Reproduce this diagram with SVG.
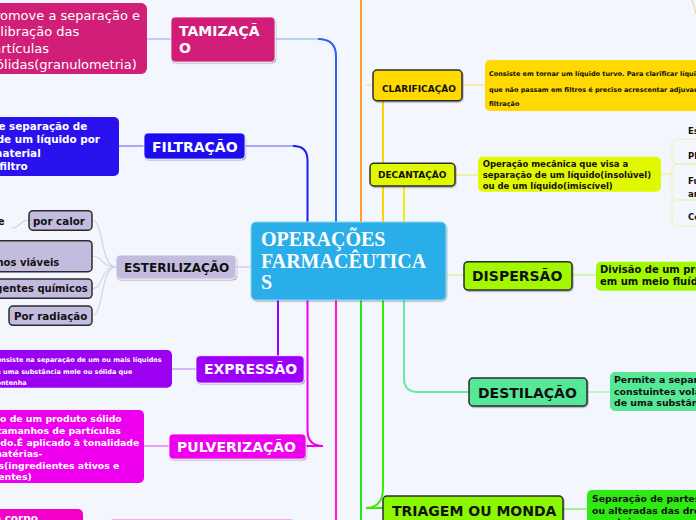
<svg xmlns="http://www.w3.org/2000/svg" width="696" height="520" viewBox="0 0 696 520">
<defs>
<filter id="sh" x="-10%" y="-10%" width="130%" height="150%"><feDropShadow dx="0.8" dy="1.2" stdDeviation="0.7" flood-color="#000" flood-opacity="0.3"/></filter>
<style>
.t{font-family:"DejaVu Sans",Verdana,sans-serif;font-weight:bold}
.r{font-family:"DejaVu Sans",Verdana,sans-serif}
.w{fill:#fff}.k{fill:#111}
.dk{stroke:#2b2b2b;stroke-width:1.5}
.lt{stroke:#ffffff;stroke-opacity:0.7;stroke-width:1}
.nd{filter:url(#sh)}
.e{text-anchor:end}
</style>
</defs>
<rect width="696" height="520" fill="#f3f6fd"/>
<g id="connectors" fill="none" stroke-width="2">
<path d="M275,39 H322" stroke="#a9c0f7" stroke-width="1.5"/>
<path d="M318,39 Q336,39 336,56 V222" stroke="#2f5ff5"/>
<path d="M245,146 H296" stroke="#8c8cf3" stroke-width="1.5"/>
<path d="M293,146 Q307.5,146 307.5,160 V222" stroke="#1c1cf2"/>
<path d="M147,39 H171" stroke="#a9c1f7" stroke-width="1.5"/>
<path d="M119,146 H144" stroke="#8d8cf2" stroke-width="1.5"/>
<path d="M236,267 H251" stroke="#dcd8ef"/>
<g stroke="#d4d0e9" stroke-width="1.2">
<path d="M116,267 C100,267 104,220 92,220"/>
<path d="M116,267 C100,267 104,256 92,256"/>
<path d="M116,267 C100,267 104,288.5 92,288.5"/>
<path d="M116,267 C100,267 104,315.5 92,315.5"/>
<path d="M29,220 C20,220 20,228 12,228"/>
</g>
<path d="M278,300 V356" stroke="#9a00ff"/>
<path d="M172,369 H196" stroke="#cfa0f5" stroke-width="1.5"/>
<path d="M307.5,300 V430 Q307.5,446 323,446 H306" stroke="#ee00ee"/>
<path d="M144,446 H169" stroke="#f080f0" stroke-width="1.5"/>
<path d="M336,300 V520" stroke="#ff1ad0"/>
<path d="M361,300 V520" stroke="#1ee81e"/>
<path d="M361,222 V0" stroke="#ffa126"/>
<path d="M692,0 Q694.5,7 696,14" stroke="#f8c990" stroke-width="1"/>
<path d="M383,222 V100" stroke="#ffd200"/>
<path d="M366,85 H373" stroke="#fbe38a" stroke-width="1.5"/>
<path d="M404,222 V186" stroke="#e9f500"/>
<path d="M404,300 V378 Q404,392 418,392 H469" stroke="#66ec9c"/>
<path d="M383,300 V488 C383,502 376,508 366,508 H383" stroke="#33ee00"/>
<path d="M446,275 H464" stroke="#d4fa90" stroke-width="1.5"/>
<path d="M462,85 H485" stroke="#fbe48a" stroke-width="1.5"/>
<path d="M455,175 H478" stroke="#eef27a" stroke-width="1.5"/>
<path d="M661,174 H672" stroke="#eef29a" stroke-width="1.5"/>
<path d="M572,275 H596" stroke="#c8f890" stroke-width="1.5"/>
<path d="M587,392 H610" stroke="#aef3c9" stroke-width="1.5"/>
<path d="M563,509 H587" stroke="#8af070" stroke-width="1.5"/>
</g>
<g id="n-center">
<rect class="nd" x="251" y="222" width="195" height="78" rx="5" fill="#2aaeea" stroke="#8fd3f3"/>
<g font-family="'Liberation Serif','Times New Roman',serif" font-weight="bold" font-size="20" fill="#fff">
<text x="261" y="246">OPERAÇÕES</text>
<text x="261" y="267.5">FARMACÊUTICA</text>
<text x="261" y="289">S</text>
</g>
</g>
<g id="n-tamizacao">
<rect class="nd lt" x="171" y="17" width="104" height="45" rx="4" fill="#d11f78"/>
<text class="t w" font-size="14" x="179" y="36">TAMIZAÇÃ</text>
<text class="t w" font-size="14" x="179" y="53">O</text>
</g>
<g id="d-tamizacao">
<rect x="-10" y="3" width="157" height="71" rx="6" fill="#d11f78"/>
<g class="r w e" font-size="13">
<text x="140" y="19.5">Promove a separação e</text>
<text x="79.3" y="36">calibração das</text>
<text x="49" y="52.5">partículas</text>
<text x="136.7" y="69">sólidas(granulometria)</text>
</g>
</g>
<g id="n-filtracao">
<rect class="nd lt" x="144" y="133" width="101" height="26" rx="4" fill="#1e0ff0"/>
<text class="t w" font-size="14" x="152" y="152">FILTRAÇÃO</text>
</g>
<g id="d-filtracao">
<rect x="-10" y="117" width="129" height="59" rx="5" fill="#2a12ee"/>
<g class="t w e" font-size="10.4">
<text x="87.3" y="130">de separação de</text>
<text x="100" y="143.3">de um líquido por</text>
<text x="40.7" y="156.7">material</text>
<text x="27.7" y="169.5">filtro</text>
</g>
</g>
<g id="n-esterilizacao">
<rect class="nd lt" x="116" y="255" width="120" height="24" rx="4" fill="#c3bcdf"/>
<text class="t k" font-size="12" x="124" y="272">ESTERILIZAÇÃO</text>
</g>
<g id="c-calor-frag">
<text class="t k e" font-size="10" x="4.5" y="225">e</text>
</g>
<g id="c-calor">
<rect class="dk" x="29" y="210.7" width="63" height="19.5" rx="4" fill="#c3bcdf"/>
<text class="t k" font-size="10.3" x="33" y="225">por calor</text>
</g>
<g id="c-viaveis">
<rect class="dk" x="-6" y="240.7" width="98" height="31" rx="4" fill="#c3bcdf"/>
<text class="t k e" font-size="10" x="59.3" y="266">nos viáveis</text>
</g>
<g id="c-quimicos">
<rect class="dk" x="-6" y="279" width="98" height="19.3" rx="4" fill="#c3bcdf"/>
<text class="t k e" font-size="10" x="87.7" y="292.3">agentes químicos</text>
</g>
<g id="c-radiacao">
<rect class="dk" x="9" y="306" width="83" height="19.3" rx="4" fill="#c3bcdf"/>
<text class="t k" font-size="10.3" x="14" y="320">Por radiação</text>
</g>
<g id="n-expressao">
<rect class="nd lt" x="196" y="355.7" width="108" height="27.3" rx="4" fill="#9c00fa"/>
<text class="t w" font-size="14" x="204" y="374">EXPRESSÃO</text>
</g>
<g id="d-expressao">
<rect x="-10" y="350" width="182" height="37.7" rx="5" fill="#9b00f0"/>
<g class="t w e" font-size="6.5">
<text x="161.7" y="362">Consiste na separação de um ou mais líquidos</text>
<text x="132.3" y="373.5">de uma substância mole ou sólida que</text>
<text x="26.7" y="385">contenha</text>
</g>
</g>
<g id="n-pulverizacao">
<rect class="nd lt" x="169" y="434" width="137" height="25" rx="4" fill="#ee00ee"/>
<text class="t w" font-size="14" x="177" y="451.7">PULVERIZAÇÃO</text>
</g>
<g id="d-pulverizacao">
<rect x="-10" y="410" width="154" height="73" rx="5" fill="#ee00ee"/>
<g class="t w e" font-size="9.3">
<text x="121.7" y="422">o de um produto sólido</text>
<text x="120.7" y="434">tamanhos de partículas</text>
<text x="139.3" y="445.5">do.É aplicado à tonalidade</text>
<text x="42.3" y="457">matérias-</text>
<text x="119.3" y="468.5">s(ingredientes ativos e</text>
<text x="31.7" y="480">entes)</text>
</g>
</g>
<g id="d-corpo">
<rect x="-10" y="509" width="93" height="30" rx="5" fill="#f400c8"/>
<text class="t w e" font-size="10.5" x="38" y="521.5">o corpo</text>
</g>
<g id="n-bottom">
<rect x="110" y="519.5" width="184" height="20" rx="4" fill="#ff3ad2" stroke="#f4a8ef"/>
</g>
<g id="n-clarificacao">
<rect class="nd dk" x="373" y="70" width="89" height="30.7" rx="4" fill="#ffd900"/>
<text class="t k" font-size="9" x="382" y="91.7">CLARIFICAÇÃO</text>
</g>
<g id="d-clarificacao">
<rect x="485" y="60" width="220" height="51" rx="5" fill="#ffd900"/>
<g class="t k" font-size="6.5">
<text x="489" y="76">Consiste em tornar um líquido turvo. Para clarificar líquidos</text>
<text x="489" y="91.7">que não passam em filtros é preciso acrescentar adjuvantes</text>
<text x="489" y="106.3">filtração</text>
</g>
</g>
<g id="n-decantacao">
<rect class="nd dk" x="370" y="163.3" width="85" height="22.7" rx="4" fill="#e0f900"/>
<text class="t k" font-size="9" x="378" y="177.7">DECANTAÇÃO</text>
</g>
<g id="d-decantacao">
<rect x="478" y="156.7" width="183" height="35" rx="5" fill="#e0f900"/>
<g class="t k" font-size="8.5">
<text x="482.7" y="167">Operação mecânica que visa a</text>
<text x="482.7" y="178">separação de um líquido(insolúvel)</text>
<text x="482.7" y="188.5">ou de um líquido(imiscível)</text>
</g>
</g>
<g id="c-es"><text class="t k" font-size="8.5" x="688" y="134">Es</text></g>
<g id="c-pl">
<rect x="672" y="139.3" width="40" height="24.7" rx="5" fill="none" stroke="#edf3a6"/>
<text class="t k" font-size="8.5" x="688" y="159.3">Pl</text>
</g>
<g id="c-fu">
<rect x="672" y="164" width="40" height="36" rx="5" fill="none" stroke="#edf3a6"/>
<text class="t k" font-size="8.5" x="688" y="184">Fu</text>
<text class="t k" font-size="8.5" x="688" y="196.7">ar</text>
</g>
<g id="c-co">
<rect x="672" y="200" width="40" height="26" rx="5" fill="none" stroke="#edf3a6"/>
<text class="t k" font-size="8.5" x="688" y="219.7">Co</text>
</g>
<g id="n-dispersao">
<rect class="nd dk" x="464" y="261.7" width="108" height="28.3" rx="4" fill="#a2f800"/>
<text class="t k" font-size="14" x="472" y="280.7">DISPERSÃO</text>
</g>
<g id="d-dispersao">
<rect x="596" y="261.7" width="110" height="29" rx="5" fill="#a2f800"/>
<g class="t k" font-size="10">
<text x="600" y="273.3">Divisão de um produto</text>
<text x="600" y="285">em um meio fluído</text>
</g>
</g>
<g id="n-destilacao">
<rect class="nd dk" x="469" y="378" width="118" height="28" rx="4" fill="#55e897"/>
<text class="t k" font-size="14" x="478" y="398.3">DESTILAÇÃO</text>
</g>
<g id="d-destilacao">
<rect x="610" y="372" width="100" height="39" rx="5" fill="#55e897"/>
<g class="t k" font-size="9.4">
<text x="614" y="383">Permite a separação dos</text>
<text x="614" y="394.5">constuintes voláteis</text>
<text x="614" y="406">de uma substância</text>
</g>
</g>
<g id="n-triagem">
<rect class="nd dk" x="383" y="496" width="180" height="40" rx="4" fill="#8cf800"/>
<text class="t k" font-size="14" x="392" y="515.7">TRIAGEM OU MONDA</text>
</g>
<g id="d-triagem">
<rect x="587" y="490" width="120" height="40" rx="5" fill="#2eea12"/>
<g class="t k" font-size="9.3">
<text x="592" y="502">Separação de partes</text>
<text x="592" y="513.5">ou alteradas das drogas</text>
<text x="592" y="525">vegetais</text>
</g>
</g>
</svg>
